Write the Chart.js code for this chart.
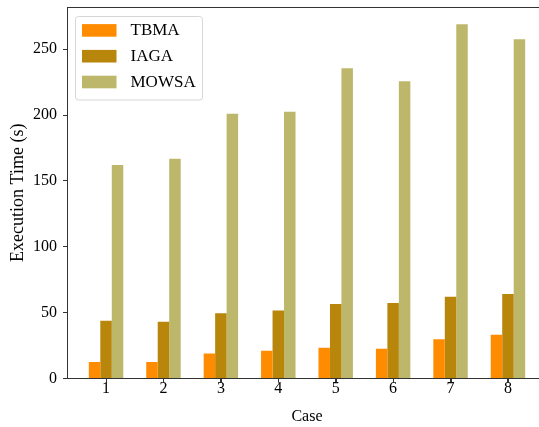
<!DOCTYPE html>
<html>
<head>
<meta charset="utf-8">
<script src="https://cdn.jsdelivr.net/npm/chart.js@4"></script>
<style>
  html, body { margin: 0; padding: 0; background: #fff; overflow: hidden; }
  #wrap { position: absolute; left: 0; top: 0; width: 548px; height: 427px; }
</style>
</head>
<body>
<div id="wrap"><canvas id="c" width="548" height="427"></canvas></div>
<script>
const categories = ['1', '2', '3', '4', '5', '6', '7', '8'];
const seriesNames = ['TBMA', 'IAGA', 'MOWSA'];
const tbma  = [12.6, 12.6, 19.0, 21.0, 23.3, 22.5, 29.7, 33.2];
const iaga  = [43.8, 43.0, 49.5, 51.7, 56.5, 57.3, 62.1, 64.2];
const mowsa = [162.1, 166.9, 200.9, 202.4, 235.6, 225.7, 268.9, 257.5];
const yTicks = [0, 50, 100, 150, 200, 250];
const colors = ['#FF8C00', '#B8860B', '#BDB76B'];

const FONT = '"Liberation Serif", "Times New Roman", serif';

function toPoints(arr) { return arr.map((v, i) => ({ x: i + 1, y: v })); }

const frameAndLegend = {
  id: 'frameAndLegend',
  afterDraw(chart) {
    const ctx = chart.ctx;
    const a = chart.chartArea;
    ctx.save();
    ctx.strokeStyle = '#333';
    ctx.lineWidth = 1;
    ctx.beginPath();
    ctx.moveTo(a.left, Math.round(a.top) + 0.5);
    ctx.lineTo(a.right, Math.round(a.top) + 0.5);
    ctx.moveTo(a.right - 0.5, a.top);
    ctx.lineTo(a.right - 0.5, a.bottom);
    // x tick marks
    const xs = chart.scales.x;
    categories.forEach((c, i) => {
      const px = Math.round(xs.getPixelForValue(i + 1)) + 0.5;
      ctx.moveTo(px, a.bottom);
      ctx.lineTo(px, a.bottom + 4);
    });
    ctx.stroke();

    // legend
    const bx = 75.5, by = 16.5, bw = 127, bh = 83.5, r = 3;
    ctx.fillStyle = 'rgba(255,255,255,0.8)';
    ctx.strokeStyle = '#d6d6d6';
    ctx.beginPath();
    ctx.moveTo(bx + r, by);
    ctx.lineTo(bx + bw - r, by);
    ctx.quadraticCurveTo(bx + bw, by, bx + bw, by + r);
    ctx.lineTo(bx + bw, by + bh - r);
    ctx.quadraticCurveTo(bx + bw, by + bh, bx + bw - r, by + bh);
    ctx.lineTo(bx + r, by + bh);
    ctx.quadraticCurveTo(bx, by + bh, bx, by + bh - r);
    ctx.lineTo(bx, by + r);
    ctx.quadraticCurveTo(bx, by, bx + r, by);
    ctx.closePath();
    ctx.fill();
    ctx.stroke();
    ctx.font = '17px ' + FONT;
    ctx.textBaseline = 'middle';
    ctx.textAlign = 'left';
    chart.data.datasets.forEach((ds, i) => {
      const cy = 30.4 + i * 25.8;
      ctx.fillStyle = ds.backgroundColor;
      ctx.fillRect(82, cy - 6.3, 34.5, 12.6);
      ctx.fillStyle = '#000';
      ctx.fillText(ds.label, 130.5, cy + 0.5);
    });
    ctx.restore();
  }
};

new Chart(document.getElementById('c'), {
  type: 'bar',
  data: {
    datasets: [
      { label: seriesNames[0], data: toPoints(tbma),  backgroundColor: colors[0] },
      { label: seriesNames[1], data: toPoints(iaga),  backgroundColor: colors[1] },
      { label: seriesNames[2], data: toPoints(mowsa), backgroundColor: colors[2] }
    ]
  },
  options: {
    responsive: false,
    animation: false,
    devicePixelRatio: 1,
    layout: { padding: { left: 0, right: 1, top: 7, bottom: 0 } },
    datasets: { bar: { categoryPercentage: 0.6, barPercentage: 1.0, borderWidth: 0 } },
    plugins: { legend: { display: false }, tooltip: { enabled: false } },
    scales: {
      x: {
        type: 'linear',
        min: 0.32, max: 8.68,
        offset: false,
        afterBuildTicks(scale) { scale.ticks = categories.map((c, i) => ({ value: i + 1 })); },
        afterFit(scale) { scale.height = 48.5; scale.paddingLeft = 0; scale.paddingRight = 0; },
        ticks: {
          color: '#000',
          font: { family: FONT, size: 16 },
          padding: -3,
          callback: (v) => categories[v - 1]
        },
        grid: { display: true, offset: false, drawOnChartArea: false, drawTicks: true, tickLength: 4, color: '#333' },
        border: { display: true, color: '#333', width: 1 },
        title: { display: true, text: 'Case', color: '#000', font: { family: FONT, size: 16 }, padding: { top: 1, bottom: 1 } }
      },
      y: {
        min: 0, max: 282,
        afterBuildTicks(scale) { scale.ticks = yTicks.map(v => ({ value: v })); },
        afterFit(scale) { scale.width = 67; scale.paddingTop = 0; scale.paddingBottom = 0; },
        ticks: {
          color: '#000',
          font: { family: FONT, size: 16 },
          padding: 6
        },
        grid: { display: true, offset: false, drawOnChartArea: false, drawTicks: true, tickLength: 4, color: '#333' },
        border: { display: true, color: '#333', width: 1 },
        title: { display: true, text: 'Execution Time (s)', color: '#000', font: { family: FONT, size: 18 }, padding: { top: 7, bottom: 4 } }
      }
    }
  },
  plugins: [frameAndLegend]
});
</script>
</body>
</html>
